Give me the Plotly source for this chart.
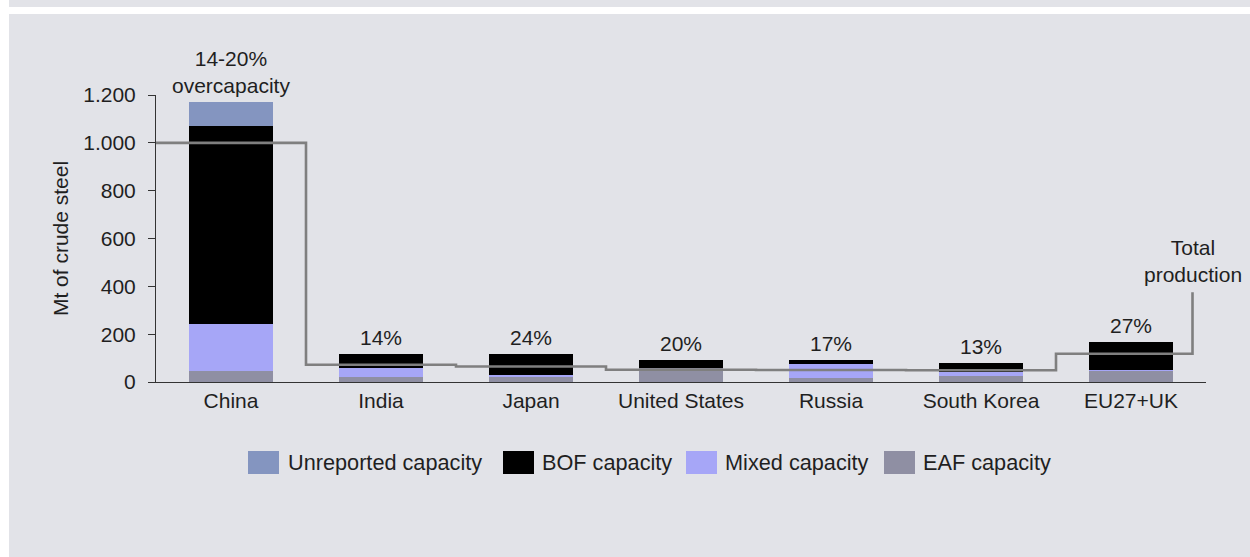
import plotly.graph_objects as go

# ---------------- data ----------------
countries = ["China", "India", "Japan", "United States", "Russia", "South Korea", "EU27+UK"]
eaf_capacity = [48, 23, 21, 59, 17, 27, 50]
mixed_capacity = [195, 36, 10, 0, 59, 16, 2]
bof_capacity = [828, 59, 87, 35, 14, 37, 114]
unreported_capacity = [100, 0, 0, 0, 0, 0, 0]
total_production = [1000, 72, 65, 51, 50, 49, 118]
overcapacity_labels = ["14-20%<br>overcapacity", "14%", "24%", "20%", "17%", "13%", "27%"]
y_ticks = [0, 200, 400, 600, 800, 1000, 1200]
production_label = "Total<br>production"
production_label_value = 375

series = [
    ("EAF capacity", eaf_capacity, "#8F8FA3"),
    ("Mixed capacity", mixed_capacity, "#A6A6F7"),
    ("BOF capacity", bof_capacity, "#000000"),
    ("Unreported capacity", unreported_capacity, "#8495C0"),
]
legend_order = ["Unreported capacity", "BOF capacity", "Mixed capacity", "EAF capacity"]

# ---------------- layout geometry (pixels) ----------------
W, H = 1250, 557
L, R, T, B = 156, 1206, 95, 382
BG = "#E2E3E8"
TXT = "#1F1F1F"
FONT = "Liberation Sans, Arial, sans-serif"
FS = 21


def px(x):
    return (x - L) / (R - L)


def py(y):
    return (B - y) / (B - T)


xpos = list(range(len(countries)))
totals = [sum(v) for v in zip(eaf_capacity, mixed_capacity, bof_capacity, unreported_capacity)]

fig = go.Figure()
for name, vals, col in series:
    fig.add_trace(go.Bar(
        x=xpos, y=vals, name=name, marker=dict(color=col, line=dict(width=0)),
        width=0.56, showlegend=False, hoverinfo="skip",
    ))

# production step line
last = len(countries) - 1
leader_x = last + 0.41
line_x = [-0.5] + xpos + [leader_x, leader_x]
line_y = [total_production[0]] + total_production + [total_production[-1], production_label_value]
fig.add_trace(go.Scatter(
    x=line_x, y=line_y, mode="lines", line=dict(color="#7F7F7F", width=2.6, shape="hvh"),
    showlegend=False, hoverinfo="skip", cliponaxis=False,
))

annotations = []
for i, (t, lab) in enumerate(zip(totals, overcapacity_labels)):
    annotations.append(dict(
        x=i, y=t, xref="x", yref="y", text=lab, showarrow=False,
        yanchor="bottom", xanchor="center", yshift=3,
        font=dict(size=FS, color=TXT, family=FONT),
    ))
annotations.append(dict(
    x=leader_x, y=production_label_value, xref="x", yref="y",
    text=production_label, showarrow=False, yanchor="bottom", xanchor="center",
    yshift=4, font=dict(size=FS, color=TXT, family=FONT),
))

# custom legend (large swatches)
legend_swatch_x = [248, 503, 686, 884]
legend_text_x = [286, 540, 723, 921]
colors = {n: c for n, _, c in series}
shapes = []
for name, sx, tx in zip(legend_order, legend_swatch_x, legend_text_x):
    shapes.append(dict(type="rect", xref="paper", yref="paper",
                       x0=px(sx), x1=px(sx + 31), y0=py(474), y1=py(451),
                       fillcolor=colors[name], line=dict(width=0), layer="above"))
    annotations.append(dict(x=px(tx), y=py(462), xref="paper", yref="paper", text=name,
                            showarrow=False, xanchor="left", yanchor="middle",
                            font=dict(size=21.7, color=TXT, family=FONT)))

# page background details (white strips)
shapes.append(dict(type="rect", xref="paper", yref="paper", x0=px(-5), x1=px(9), y0=py(H + 5), y1=py(-5),
                   fillcolor="white", line=dict(width=0), layer="below"))
shapes.append(dict(type="rect", xref="paper", yref="paper", x0=px(-5), x1=px(W + 5), y0=py(14), y1=py(7),
                   fillcolor="white", line=dict(width=0), layer="below"))

fig.update_layout(
    width=W, height=H, barmode="stack",
    margin=dict(l=L, r=W - R, t=T, b=H - B, pad=0),
    paper_bgcolor=BG, plot_bgcolor=BG,
    separators=",.",
    font=dict(family=FONT, color=TXT, size=FS),
    showlegend=False,
    annotations=annotations, shapes=shapes,
    xaxis=dict(range=[-0.5, 6.5], tickvals=xpos, ticktext=countries, showgrid=False,
               zeroline=False, showline=True, linecolor="#333333", linewidth=1,
               ticks="", tickfont=dict(size=FS, color=TXT)),
    yaxis=dict(range=[0, 1200], tickvals=y_ticks, showgrid=False, zeroline=False,
               showline=True, linecolor="#333333", linewidth=1, ticks="outside",
               ticklen=7, tickcolor="#333333", tickformat=",d", ticklabelstandoff=8,
               tickfont=dict(size=FS, color=TXT),
               title=dict(text="Mt of crude steel", standoff=8,
                          font=dict(size=FS, color=TXT))),
)

fig.write_html(
    "out.html",
    config={"displayModeBar": False},
    post_script="document.body.style.margin='0px';document.body.style.overflow='hidden';",
)
